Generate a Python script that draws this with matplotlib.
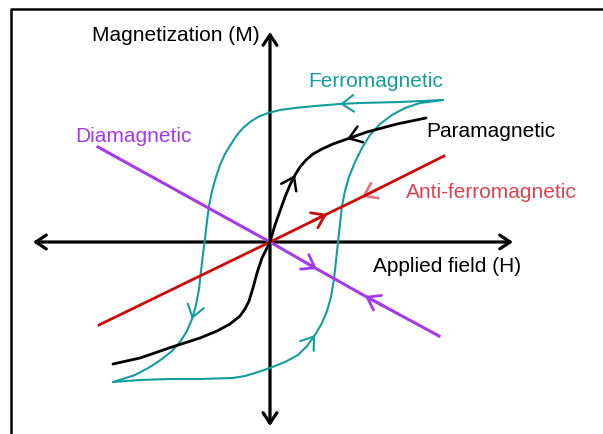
import numpy as np
import matplotlib
matplotlib.use("Agg")
import matplotlib.pyplot as plt
from matplotlib.lines import Line2D

plt.rcParams['font.family'] = ['Liberation Sans', 'DejaVu Sans']

# M-H curves, applied field H vs magnetization M (arbitrary units)
para_h = [-157, -130, -98, -70, -53, -40, -30, -25, -21, -17, -13, -8, 0,
          5, 10, 15, 20, 25, 30, 36, 43, 52, 63, 77, 97, 127, 156]
para_m = [-122, -116, -105, -96, -89, -82, -74, -67, -59, -46, -31, -16, 0,
          17, 31, 45, 57, 67, 75, 82, 88, 93, 98, 103, 110, 118, 124]

# ferromagnetic hysteresis loop: descending and ascending branches
ferro_down_h = [173, 130, 90, 70, 45, 25, 10, -2, -12, -20, -27, -33, -39, -45, -50, -54,
                -58, -61, -63, -65, -67, -69, -71, -74, -78, -83, -90, -98, -108, -120, -135, -157]
ferro_down_m = [142, 140, 139, 138, 136, 134, 132, 129, 125, 120, 114, 107, 98, 88, 77, 65,
                51, 36, 21, 3, -12, -29, -47, -63, -77, -89, -100, -109, -117, -125, -133, -140]
ferro_up_h = [-157, -130, -100, -70, -37, -25, -15, 0, 15, 28, 37, 45, 52, 57, 61, 64, 66, 68,
              70, 72, 75, 79, 85, 92, 100, 110, 122, 135, 150, 173]
ferro_up_m = [-140, -138, -137, -137, -136, -134, -131, -126, -120, -113, -104, -93, -81, -69, -55, -37, -19, 0,
              18, 36, 51, 65, 80, 94, 107, 118, 127, 134, 139, 142]

dia_h = [-172, 0, 47, 95, 169]
dia_m = [95, 0, -27, -54, -94]

afm_h = [-171, 0, 57, 92, 174]
afm_m = [-83, 0, 28, 45, 86]

teal = '#139d9d'
purple = '#a43aea'
red = '#cc0a0a'
pink = '#e8767e'
afm_label = '#de4350'

fig = plt.figure(figsize=(6.03, 4.35), dpi=100)
ax = fig.add_axes([0, 0, 1, 1])
ax.set_xlim(-270, 333)
ax.set_ylim(-192, 243)
ax.axis('off')

# border
fig.add_artist(Line2D([11 / 603, 11 / 603, 1.0], [0, 1 - 10 / 435, 1 - 10 / 435],
                      transform=fig.transFigure, color='black', lw=1.8))

# axes with arrows at both ends
axis_style = dict(arrowstyle='<->,head_length=0.75,head_width=0.5', color='black',
                  lw=2.3, shrinkA=0, shrinkB=0)
ax.annotate('', xy=(243, 0), xytext=(-237, 0), arrowprops=axis_style)
ax.annotate('', xy=(0, 210), xytext=(0, -184), arrowprops=axis_style)


def chevron(xs, ys, frm, tip, color, lw, z=4):
    # open arrow head on a curve at point `tip`, pointing away from point `frm`
    x1, y1 = xs[tip], ys[tip]
    x0 = x1 - 0.25 * (x1 - xs[frm])
    y0 = y1 - 0.25 * (y1 - ys[frm])
    ax.annotate('', xy=(x1, y1), xytext=(x0, y0), zorder=z,
                arrowprops=dict(arrowstyle='->,head_length=0.85,head_width=0.6',
                                color=color, lw=lw, shrinkA=0, shrinkB=0))


line_kw = dict(solid_capstyle='round', solid_joinstyle='round')
ax.plot(ferro_down_h, ferro_down_m, color=teal, lw=1.5, zorder=3, **line_kw)
ax.plot(ferro_up_h, ferro_up_m, color=teal, lw=1.5, zorder=3, **line_kw)
chevron(ferro_down_h, ferro_down_m, 2, 3, teal, 1.5)
chevron(ferro_down_h, ferro_down_m, 23, 24, teal, 1.5)
chevron(ferro_up_h, ferro_up_m, 10, 11, teal, 1.5)

ax.plot(afm_h, afm_m, color=red, lw=2.0, zorder=5)
chevron(afm_h, afm_m, 1, 2, red, 2.0, z=5)
chevron(afm_h, afm_m, 4, 3, pink, 2.0, z=2)

ax.plot(dia_h, dia_m, color=purple, lw=2.2, zorder=4)
chevron(dia_h, dia_m, 1, 2, purple, 2.0)
chevron(dia_h, dia_m, 4, 3, purple, 2.0)

ax.plot(para_h, para_m, color='black', lw=2.0, zorder=6, **line_kw)
chevron(para_h, para_m, 16, 17, 'black', 1.8, z=6)
chevron(para_h, para_m, 24, 23, 'black', 1.8, z=6)

fs = 15
ax.text(-178, 202, 'Magnetization (M)', fontsize=fs, color='black', va='baseline')
ax.text(103, -29, 'Applied field (H)', fontsize=fs, color='black', va='baseline')
ax.text(38, 156, 'Ferromagnetic', fontsize=fs, color=teal, va='baseline')
ax.text(156, 106, 'Paramagnetic', fontsize=fs, color='black', va='baseline')
ax.text(-195, 101, 'Diamagnetic', fontsize=fs, color=purple, va='baseline')
ax.text(136, 45, 'Anti-ferromagnetic', fontsize=fs, color=afm_label, va='baseline')

fig.savefig('out.png', dpi=100)
